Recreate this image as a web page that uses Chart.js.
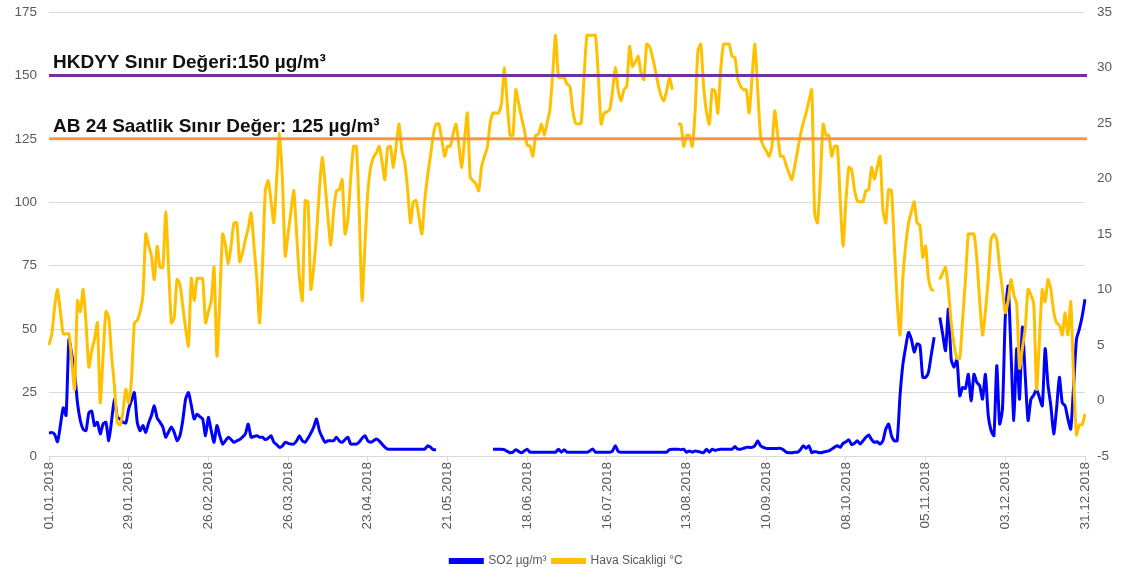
<!DOCTYPE html>
<html>
<head>
<meta charset="utf-8">
<script src="https://cdn.jsdelivr.net/npm/chart.js@4.4.1/dist/chart.umd.min.js"></script>
<style>
  html, body { margin: 0; padding: 0; background: #fff; }
</style>
</head>
<body>
<canvas id="chart" width="1133" height="573"></canvas>
<script>
// Daily values, 01.01.2018 - 31.12.2018 (365 days)
const so2 = [
  9, 9.3, 8.5, 5.6, 12, 19, 16, 46, 40, 33,
  21, 14, 10.5, 10, 17, 17.7, 12, 13.3, 8.7, 12.6,
  13.3, 6, 14, 22.4, 15.2, 14.6, 13.3, 13, 18.5, 22,
  25, 13.3, 10, 12, 9.3, 13, 16, 19.8, 15, 13.3,
  11.4, 7.4, 9.5, 11.4, 9.3, 6, 8, 14, 22.4, 25,
  20, 14.6, 16.5, 15.5, 14.6, 8, 15.2, 10, 5.4, 12,
  8, 4.7, 6, 7.4, 6.5, 5.4, 6, 6.5, 7.5, 8.7,
  12.6, 7.4, 7.7, 8, 7.4, 7.4, 6.5, 7, 8, 5.4,
  4.5, 3.4, 4, 5.4, 5, 4.7, 4.7, 6, 8, 6,
  5.4, 7, 9, 11.4, 14.6, 10, 7.4, 5.4, 6, 6,
  6, 7.4, 6, 5.4, 6.5, 7.4, 4.7, 4.7, 4.7, 5.5,
  7, 8, 6, 5.4, 6, 6.7, 6, 4.7, 3.5, 2.7,
  2.7, 2.7, 2.7, 2.7, 2.7, 2.7, 2.7, 2.7, 2.7, 2.7,
  2.7, 2.7, 2.7, 4, 3.5, 2.5, 2.5, null, null, null,
  null, null, null, null, null, null, null, null, null, null,
  null, null, null, null, null, null, 2.7, 2.7, 2.7, 2.7,
  2.5, 1.8, 1.3, 1.5, 2.5, 1.8, 1.3, 2, 2.7, 1.5,
  1.5, 1.5, 1.5, 1.5, 1.5, 1.5, 1.5, 1.5, 1.5, 2.7,
  1.5, 2.5, 1.5, 1.5, 1.5, 1.5, 1.5, 1.5, 1.5, 1.5,
  2, 2.8, 1.5, 1.5, 1.5, 1.5, 1.5, 1.5, 2, 4,
  1.8, 1.5, 1.5, 1.5, 1.5, 1.5, 1.5, 1.5, 1.5, 1.5,
  1.5, 1.5, 1.5, 1.5, 1.5, 1.5, 1.5, 1.5, 2.5, 2.7,
  2.7, 2.7, 2.5, 2.7, 1.5, 2, 1.5, 2, 1.8, 1.5,
  1.3, 2.7, 1.5, 2.7, 2.2, 2.5, 2.7, 2.7, 2.7, 2.7,
  2.7, 3.7, 2.7, 2.7, 3, 3.4, 3.4, 3.4, 4, 6,
  4, 3.4, 3, 3, 3, 3, 3, 3, 2.5, 1.5,
  1.3, 1.3, 1.5, 1.5, 2.5, 4, 3, 4, 1.3, 1.8,
  1.5, 1.3, 1.5, 1.8, 2, 2.7, 3.5, 4, 3.4, 5,
  5.6, 6.4, 4.5, 5, 6, 4.7, 6, 7.4, 8.3, 6.5,
  5.4, 5.6, 4.7, 6, 10.6, 12.6, 8, 6, 6, 23.7,
  36, 43, 48.7, 46, 41, 44.2, 43.6, 31, 31, 33,
  40, 46.8, null, 54.6, 48, 41.5, 57.9, 38, 35, 38,
  23.7, 27, 26.6, 32.2, 21.7, 32.2, 29, 27.7, 22.4, 32.2,
  16, 10, 8, 35.6, 12.6, 18.5, 55, 67, 41, 14,
  42.3, 22.4, 50.8, 31.8, 14, 22.4, 24, 26.3, 23, 19.8,
  42.3, 28, 19.8, 8.7, 18.5, 31, 21, 19.8, 14.6, 10.6,
  27.7, 46, 50, 55, 61.8
];

const temp = [
  5, 6, 8.5, 10, 8, 6, 6, 6, 3.5, 1,
  9, 8, 10, 7, 3, 4.5, 5.5, 7, -0.2, 4,
  8, 7.5, 4, 1.3, -2, -2.2, -1, 1, -0.2, 2,
  7, 7.2, 8, 9.5, 15, 14, 13, 10.9, 13.9, 12,
  12, 17, 12, 7, 7.5, 10.9, 10.5, 8.5, 6.5, 4.9,
  11, 9, 11, 11, 11, 7, 8, 9, 12, 4,
  9, 15, 14, 12.3, 14, 16, 16, 12.5, 13.3, 14.5,
  15.5, 16.9, 14, 11, 7, 12, 18.9, 19.8, 18, 16,
  20, 24.1, 20, 13, 15, 17, 18.9, 15, 11, 9,
  18, 17.9, 10, 12, 15, 19, 21.9, 19.5, 16.5, 14,
  17, 18.9, 19, 19.9, 15, 16.3, 20, 22.9, 22.9, 17,
  9, 14, 18.7, 21, 21.9, 22.3, 22.9, 21.5, 19.9, 22.8,
  22.9, 21, 23, 24.9, 22.5, 21.4, 19, 16, 17.9, 18,
  16.5, 15, 18, 20.2, 22, 23.9, 24.9, 24.9, 23.5, 22,
  22.9, 22.9, 24, 24.9, 23, 21, 23.5, 25.9, 20.1, 19.8,
  19.5, 18.9, 21.1, 22, 22.8, 25, 25.9, 25.9, 25.9, 26.8,
  30, 26.8, 23.9, 23.9, 28, 26.8, 25.5, 24.4, 23, 22.9,
  22, 23.9, 24, 24.9, 23.9, 25, 26.2, 29.5, 32.9, 29.1,
  29.1, 29.1, 28.5, 28.3, 26.2, 25, 24.9, 25, 29.2, 32.9,
  32.9, 32.9, 32.9, 29.2, 24.9, 25.9, 26, 26.2, 27.9, 30,
  27.9, 27, 28, 28.3, 31.9, 30.1, 30.5, 31, 29.5, 28.9,
  32.1, 31.9, 31, 29.8, 28.5, 27.5, 27, 27.9, 29.1, 28,
  null, 24.9, 24.9, 22.9, 23.9, 23.9, 22.9, 26, 31.5, 32.1,
  28.3, 26, 24.9, 28, 27.9, 25.9, 29.8, 32.1, 32.1, 32.1,
  31, 30.9, 29, 28.3, 28, 28, 25.9, 29, 32.1, 28,
  23.8, 22.9, 22.5, 22, 22.9, 26.1, 24, 22, 22, 21.2,
  20.5, 19.9, 21.1, 22.5, 23.9, 25, 25.9, 27, 28, 16.9,
  16, 19.9, 24.9, 23.9, 23.9, 22, 22.9, 22.9, 18, 13.9,
  18, 21, 20.8, 19, 18, 17.9, 17.9, 18.9, 19, 21,
  19.9, 21, 22, 17.2, 16, 19, 18.9, 14, 9, 5.9,
  11, 14, 16, 17, 17.9, 16, 15.8, 12.9, 13.9, 11,
  10, 9.9, null, 10.9, 11.5, 12, 10, 7, 5, 3.8,
  3.8, 7.3, 10.9, 15, 15, 15, 12.7, 9, 5.9, 8,
  10.9, 14.5, 15, 14.5, 12, 10, 7.9, 9, 10.9, 9.5,
  8.7, 2.9, 4.7, 6.5, 10, 9.5, 8.7, 1, 5.5, 10,
  8.9, 10.9, 10, 8, 7, 6.8, 5.9, 7.9, 5.9, 8.9,
  2, -3.1, -2.2, -2.2, -1.2
];

// Limit values (left axis)
const limitValues = [150, 125];
const limitLabels = ["HKDYY Sınır Değeri:150 µg/m³", "AB 24 Saatlik Sınır Değer: 125 µg/m³"];

// Axis ticks
const so2Ticks = { min: 0, max: 175, step: 25 };
const tempTicks = { min: -5, max: 35, step: 5 };
const labelEvery = 28;

// Date labels dd.mm.2018
const days = [];
for (let i = 0; i < so2.length; i++) {
  const d = new Date(2018, 0, 1 + i);
  const dd = String(d.getDate()).padStart(2, "0");
  const mm = String(d.getMonth() + 1).padStart(2, "0");
  days.push(dd + "." + mm + "." + d.getFullYear());
}

const limitColors = ["#7030A0", "#F79646"];
const axisFont = { family: "'Liberation Sans', Arial, sans-serif", size: 13.5 };

// Limit lines with labels
const limitLines = {
  id: "limitLines",
  afterDatasetsDraw(chart) {
    const { ctx, chartArea, scales } = chart;
    limitValues.forEach((v, i) => {
      const y = scales.y.getPixelForValue(v);
      ctx.save();
      ctx.strokeStyle = limitColors[i];
      ctx.lineWidth = 3;
      ctx.beginPath();
      ctx.moveTo(chartArea.left, y);
      ctx.lineTo(chartArea.right + 2, y);
      ctx.stroke();
      ctx.fillStyle = "#111";
      ctx.font = "bold 19px 'Liberation Sans', Arial, sans-serif";
      ctx.textBaseline = "alphabetic";
      ctx.fillText(limitLabels[i], chartArea.left + 4, y - 7);
      ctx.restore();
    });
  },
};

// Nudge the legend a little lower
const legendShift = {
  id: "legendShift",
  afterLayout(chart) {
    if (chart.legend) {
      chart.legend.top += 4;
      chart.legend.bottom += 4;
    }
  },
};

new Chart(document.getElementById("chart"), {
  type: "line",
  data: {
    labels: days,
    datasets: [
      {
        label: "SO2 µg/m³",
        data: so2,
        yAxisID: "y",
        borderColor: "#0000FF",
        backgroundColor: "#0000FF",
        borderWidth: 3,
        pointRadius: 0,
        tension: 0.2,
        order: 2,
      },
      {
        label: "Hava Sicakligi °C",
        data: temp,
        yAxisID: "y1",
        borderColor: "#FFC000",
        backgroundColor: "#FFC000",
        borderWidth: 3,
        pointRadius: 0,
        tension: 0.2,
        order: 1,
      },
    ],
  },
  options: {
    responsive: false,
    animation: false,
    layout: { padding: { top: 12, bottom: 0, left: 0, right: 0 } },
    plugins: {
      tooltip: { enabled: false },
      legend: {
        position: "bottom",
        labels: {
          boxWidth: 32,
          boxHeight: 3,
          padding: 6,
          color: "#595959",
          font: { family: "'Liberation Sans', Arial, sans-serif", size: 12 },
          sort: (a, b) => a.datasetIndex - b.datasetIndex,
        },
      },
    },
    scales: {
      x: {
        afterBuildTicks: (axis) => {
          axis.ticks = axis.ticks.filter((t) => t.value % labelEvery === 0);
        },
        afterFit: (scale) => { scale.height = 89; },
        ticks: {
          autoSkip: false,
          minRotation: 90,
          maxRotation: 90,
          color: "#595959",
          font: axisFont,
          padding: 1,
        },
        grid: { drawOnChartArea: false, color: "#d9d9d9", tickLength: 5 },
        border: { color: "#d9d9d9" },
      },
      y: {
        position: "left",
        min: so2Ticks.min,
        max: so2Ticks.max,
        afterFit: (scale) => { scale.width = 49; },
        ticks: { stepSize: so2Ticks.step, color: "#595959", font: axisFont, padding: 0 },
        grid: { color: "#d9d9d9", tickLength: 12, tickColor: "transparent" },
        border: { display: false },
      },
      y1: {
        position: "right",
        min: tempTicks.min,
        max: tempTicks.max,
        afterFit: (scale) => { scale.width = 48; },
        ticks: { stepSize: tempTicks.step, color: "#595959", font: axisFont, padding: 0 },
        grid: { drawOnChartArea: false, tickLength: 12, tickColor: "transparent" },
        border: { display: false },
      },
    },
  },
  plugins: [limitLines, legendShift],
});
</script>
</body>
</html>
